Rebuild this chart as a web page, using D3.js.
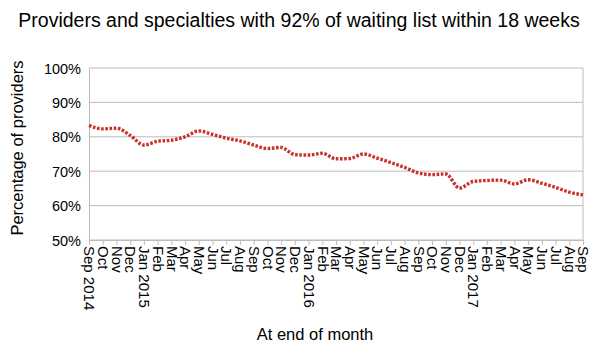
<!DOCTYPE html>
<html>
<head>
<meta charset="utf-8">
<script src="https://cdn.jsdelivr.net/npm/d3@7"></script>
<style>
  body { margin: 0; background: #fff; }
  text { font-family: "Liberation Sans", Arial, Helvetica, sans-serif; fill: #000; }
</style>
</head>
<body>
<div id="chart"></div>
<script>
// data
var months = ["Sep 2014","Oct","Nov","Dec","Jan 2015","Feb","Mar","Apr","May","Jun","Jul","Aug",
  "Sep","Oct","Nov","Dec","Jan 2016","Feb","Mar","Apr","May","Jun","Jul","Aug",
  "Sep","Oct","Nov","Dec","Jan 2017","Feb","Mar","Apr","May","Jun","Jul","Aug","Sep"];
var pct = [83.3,82.3,82.5,80.4,77.6,78.7,79.0,80.0,81.7,80.7,79.6,78.8,
  77.6,76.6,76.9,74.8,74.7,75.2,73.6,73.7,75.0,73.8,72.5,71.1,
  69.5,69.0,69.2,65.1,67.0,67.3,67.4,66.3,67.5,66.5,65.3,63.9,63.1];
var yTicks = [50,60,70,80,90,100];

var W = 597, H = 353;
var margin = {top: 68, right: 14, bottom: 113, left: 89};
var w = W - margin.left - margin.right,
    h = H - margin.top - margin.bottom;

var svg = d3.select("#chart").append("svg")
    .attr("width", W)
    .attr("height", H);

// titulo
svg.append("text")
    .attr("x", 299)
    .attr("y", 27)
    .attr("text-anchor", "middle")
    .style("font-size", "19.5px")
    .text("Providers and specialties with 92% of waiting list within 18 weeks");

var g = svg.append("g").attr("transform", "translate(" + margin.left + "," + margin.top + ")");

var x = d3.scalePoint().domain(d3.range(months.length)).range([0, w]);
var y = d3.scaleLinear().domain([50, 100]).range([h, 0]);

// gridlines
g.selectAll(".grid").data(yTicks).enter().append("line")
    .attr("x1", 0).attr("x2", w)
    .attr("y1", function(d) { return y(d); })
    .attr("y2", function(d) { return y(d); })
    .attr("stroke", "#bdbdbd").attr("stroke-width", 1);

// right border
g.append("line").attr("x1", w).attr("x2", w).attr("y1", 0).attr("y2", h)
    .attr("stroke", "#bdbdbd");

// y axis
var yAxis = d3.axisLeft(y).tickValues(yTicks).tickSize(0).tickPadding(8)
    .tickFormat(function(d) { return d + "%"; });
g.append("g").call(yAxis)
    .call(function(s) { s.select(".domain").attr("stroke", "#bdbdbd"); })
    .selectAll("text").style("font-size", "14.5px").attr("dy", "0.35em");

// x axis
var xAxis = d3.axisBottom(x).tickSize(5).tickPadding(3)
    .tickFormat(function(i) { return months[i]; });
var xg = g.append("g").attr("transform", "translate(0," + h + ")").call(xAxis);
xg.select(".domain").attr("stroke", "#bdbdbd");
xg.selectAll(".tick line").attr("stroke", "#bdbdbd");
xg.selectAll("text")
    .style("font-size", "15px")
    .attr("text-anchor", "start")
    .attr("transform", "rotate(90)")
    .attr("x", 6).attr("y", 0).attr("dy", "0.35em");

// linea
var line = d3.line()
    .x(function(d, i) { return x(i); })
    .y(function(d) { return y(d); })
    .curve(d3.curveMonotoneX);

g.append("path")
    .datum(pct)
    .attr("d", line)
    .attr("fill", "none")
    .attr("stroke", "#c9302a")
    .attr("stroke-width", 3.4)
    .attr("stroke-dasharray", "2.6,1.6");

// titulos de ejes
svg.append("text")
    .attr("transform", "translate(23," + (margin.top + h / 2 - 6) + ") rotate(-90)")
    .attr("text-anchor", "middle")
    .style("font-size", "16.5px")
    .text("Percentage of providers");

svg.append("text")
    .attr("x", 315)
    .attr("y", 340)
    .attr("text-anchor", "middle")
    .style("font-size", "16.5px")
    .text("At end of month");
</script>
</body>
</html>
